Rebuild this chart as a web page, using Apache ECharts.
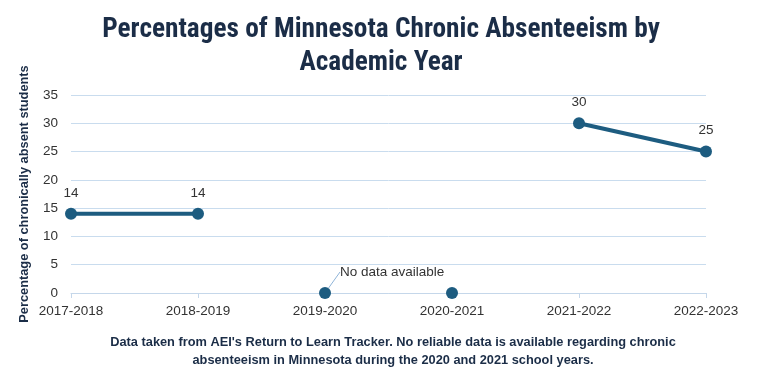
<!DOCTYPE html>
<html><head><meta charset="utf-8">
<script src="https://cdn.jsdelivr.net/npm/echarts@6/dist/echarts.min.js"></script>
<style>html,body{margin:0;padding:0;background:#fff}#c{width:757px;height:384px}</style>
</head><body><div id="c"></div>
<script>
var categories = ['2017-2018','2018-2019','2019-2020','2020-2021','2021-2022','2022-2023'];
var absentValues = [14, 14, null, null, 30, 25];
var noDataValues = [null, null, 0, 0, null, null];
var noDataText = 'No data available';
var titleText = 'Percentages of Minnesota Chronic Absenteeism by\nAcademic Year';
var captionText = "Data taken from AEI's Return to Learn Tracker. No reliable data is available regarding chronic\nabsenteeism in Minnesota during the 2020 and 2021 school years.";
var yAxisName = 'Percentage of chronically absent students';

var navy = '#1b2d47';
var lineColor = '#1d5c80';
var chart = echarts.init(document.getElementById('c'));
chart.setOption({
  animation: false,
  title: [{
    text: titleText, left: 376, top: 9, textAlign: 'center',
    textStyle: {fontFamily: 'Roboto Condensed, Liberation Sans', fontSize: 27.3, fontWeight: 'bold', color: navy, lineHeight: 33}
  }, {
    text: captionText, left: 388, top: 328, textAlign: 'center',
    textStyle: {fontFamily: 'Liberation Sans', fontSize: 12.8, fontWeight: 'bold', color: navy, lineHeight: 18}
  }],
  grid: {left: 71, right: 51, top: 95, bottom: 91},
  xAxis: {
    type: 'category', data: categories, boundaryGap: false,
    axisLine: {lineStyle: {color: '#c5d7ea'}},
    axisTick: {show: true, alignWithLabel: true, lineStyle: {color: '#c5d7ea'}, length: 5},
    axisLabel: {color: '#333', fontSize: 13.5, fontFamily: 'Liberation Sans', margin: 11}
  },
  yAxis: {
    type: 'value', min: 0, max: 35, interval: 5,
    name: yAxisName, nameLocation: 'middle', nameGap: 40, nameRotate: 90,
    nameTextStyle: {color: navy, fontSize: 12.8, fontWeight: 'bold', fontFamily: 'Liberation Sans'},
    axisLine: {show: false}, axisTick: {show: false},
    axisLabel: {color: '#333', fontSize: 13.5, fontFamily: 'Liberation Sans', margin: 13},
    splitLine: {lineStyle: {color: '#c9dcee'}}
  },
  series: [{
    type: 'line', data: absentValues, connectNulls: false,
    symbol: 'circle', symbolSize: 12,
    lineStyle: {color: lineColor, width: 4},
    itemStyle: {color: lineColor},
    label: {show: true, position: 'top', distance: 8, color: '#333', fontSize: 13.5, fontFamily: 'Liberation Sans'}
  }, {
    type: 'scatter', data: noDataValues.map(function (v, i) {
      if (v === null) return null;
      var o = {value: v};
      if (i === 2) {
        o.label = {show: true, formatter: noDataText, position: 'right'};
        o.labelLine = {show: true, lineStyle: {color: '#8fb4d8', width: 1}};
      }
      return o;
    }),
    symbol: 'circle', symbolSize: 12,
    itemStyle: {color: lineColor, opacity: 1},
    label: {show: false, color: '#333', fontSize: 13.5, fontFamily: 'Liberation Sans'},
    labelLayout: {dx: 4, dy: -21},
    labelLine: {show: false}
  }]
});
</script></body></html>
